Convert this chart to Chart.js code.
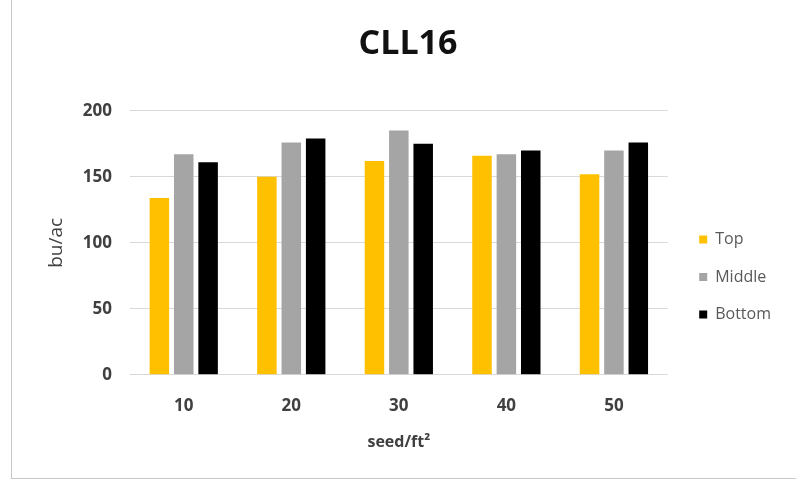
<!DOCTYPE html>
<html>
<head>
<meta charset="utf-8">
<script src="https://cdn.jsdelivr.net/npm/chart.js@4"></script>
<style>
  body { margin: 0; background: #fff; }
  #wrap { position: relative; width: 796px; height: 482px; }
  #frame { position: absolute; left: 11px; top: 0; width: 785px; height: 478px;
           border-left: 1px solid #c8c8c8; border-bottom: 1px solid #c8c8c8; pointer-events: none; }
</style>
</head>
<body>
<div id="wrap">
  <canvas id="canvas" width="796" height="482"></canvas>
  <div id="frame"></div>
</div>
<script>
// data
const seedRates = ['10', '20', '30', '40', '50'];
const topYield = [134, 150, 162, 166, 152];
const middleYield = [167, 176, 185, 167, 170];
const bottomYield = [161, 179, 175, 170, 176];

const tickFont = { family: 'Open Sans', size: 17, weight: 'bold' };

const dataset = (label, data, color) => ({
  label: label,
  data: data,
  backgroundColor: color,
  borderWidth: 0,
  categoryPercentage: 0.68,
  barPercentage: 0.8
});

// nudge the legend away from the plot, the way Excel places it
const legendNudge = {
  id: 'legendNudge',
  afterLayout(chart) {
    const lg = chart.legend;
    lg.left += 10; lg.right += 10;
    lg.top += 39; lg.bottom += 39;
  }
};

let ctx = document.getElementById('canvas').getContext('2d');
let chart = new Chart(ctx, {
  type: 'bar',
  data: {
    labels: seedRates,
    datasets: [
      dataset('Top', topYield, '#ffc000'),
      dataset('Middle', middleYield, '#a5a5a5'),
      dataset('Bottom', bottomYield, '#000000')
    ]
  },
  plugins: [legendNudge],
  options: {
    responsive: false,
    animation: false,
    layout: { padding: { left: 45, right: 25, top: 24, bottom: 30 } },
    plugins: {
      title: {
        display: true,
        text: 'CLL16',
        color: '#111',
        font: { family: 'Open Sans', size: 34, weight: 'bold' },
        padding: { top: 0, bottom: 46 }
      },
      legend: {
        position: 'right',
        labels: {
          color: '#595959',
          font: { family: 'Open Sans', size: 16 },
          boxWidth: 8,
          boxHeight: 8,
          padding: 21.5
        }
      },
      tooltip: { enabled: false }
    },
    scales: {
      x: {
        grid: { display: false, drawTicks: false },
        border: { display: false },
        ticks: { color: '#404040', font: tickFont, padding: 21 },
        title: {
          display: true,
          text: 'seed/ft²',
          color: '#404040',
          font: { family: 'Open Sans', size: 16, weight: 'bold' },
          padding: { top: -4.4, bottom: 0 }
        }
      },
      y: {
        min: 0,
        max: 200,
        grid: { color: '#d9d9d9', drawTicks: false },
        border: { display: false },
        ticks: { stepSize: 50, color: '#404040', font: tickFont, padding: 18 },
        title: {
          display: true,
          text: 'bu/ac',
          color: '#404040',
          font: { family: 'Open Sans', size: 19 },
          padding: { top: 0, bottom: -3 }
        }
      }
    }
  }
});
</script>
</body>
</html>
